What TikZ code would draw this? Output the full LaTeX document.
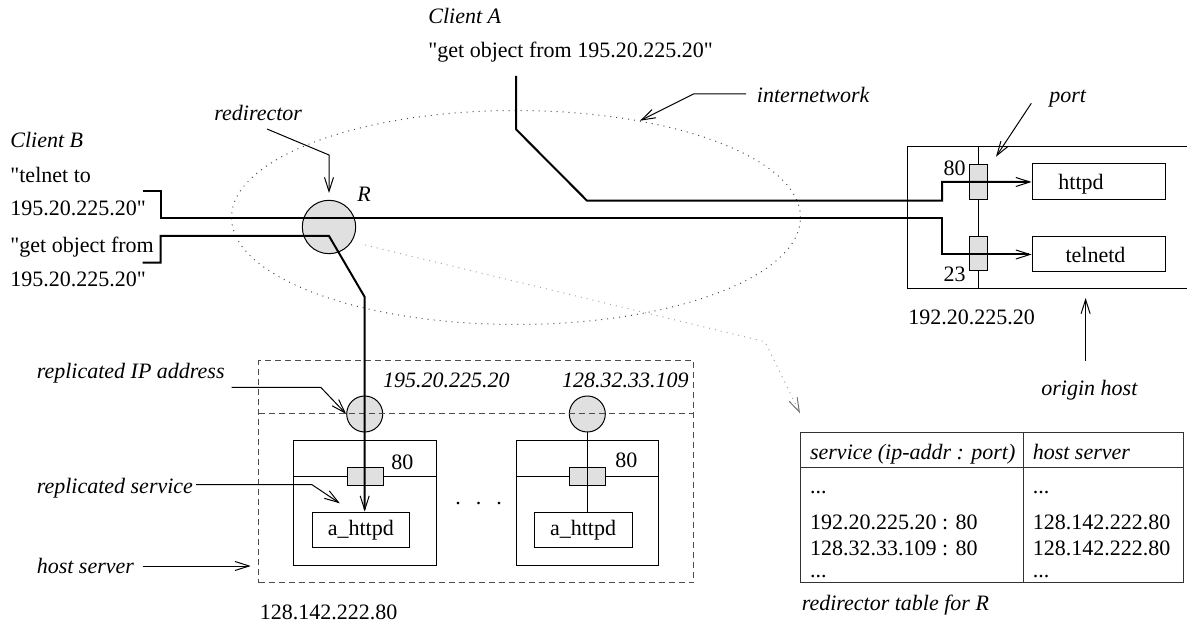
\documentclass[tikz,border=0pt]{standalone}
\usepackage{fontspec}
\setmainfont{Liberation Serif}
\usetikzlibrary{arrows.meta,shapes.geometric}
\begin{document}
\begin{tikzpicture}[x=0.5pt,y=-0.5pt,
  txt/.style={font=\fontsize{11}{13}\selectfont, inner sep=0pt, anchor=base west},
  itxt/.style={txt, font=\fontsize{11}{13}\selectfont\itshape},
  thk/.style={line width=1pt},
  thn/.style={line width=0.5pt},
  arr/.style={-{Straight Barb[length=7pt,width=4.5pt,line width=0.5pt]}},
  portbox/.style={draw, thn, fill=black!12, inner sep=0pt},
  sbox/.style={draw, thn, inner sep=0pt, font=\fontsize{11}{13}\selectfont},
  ipc/.style={circle, draw, thn, fill=black!12, inner sep=0pt, minimum size=18pt},
  dotline/.style={line width=0.5pt, dash pattern=on 0.5pt off 2.5pt},
  dashline/.style={line width=0.5pt, black!70, dash pattern=on 3pt off 2pt},
]
\useasboundingbox (0,0) rectangle (1187,624);

% internetwork
\node[ellipse, draw=black!70, dotline, inner sep=0pt, minimum width=284.5pt, minimum height=107pt] (net) at (516,217.5) {};

% redirector
\node[ipc, minimum size=26.7pt] (R) at (329,227) {};
\node[itxt] (Rl) at (357,202) {R};

% dotted link from R to table
\coordinate (rt0) at (365,245);
\coordinate (rt1) at (765,341.7);
\coordinate (rt2) at (800,413.3);
\draw[dotline, black!35, -{Straight Barb[length=7pt,width=4.5pt,line width=0.5pt,black!55]}] (rt0) -- (rt1) -- (rt2);

% texts
\node[itxt] (cA) at (428,24) {Client A};
\node[txt] (qA) at (428,58) {\textquotedbl get object from 195.20.225.20\textquotedbl};
\node[itxt] (inet) at (756.5,102.7) {internetwork};
\node[itxt] (redir) at (214,121) {redirector};
\node[itxt] (cB) at (10,147.7) {Client B};
\node[txt] (qB1) at (10,183) {\textquotedbl telnet to};
\node[txt] (qB2) at (10,215.5) {195.20.225.20\textquotedbl};
\node[txt] (qB3) at (10,253) {\textquotedbl get object from};
\node[txt] (qB4) at (10,286.5) {195.20.225.20\textquotedbl};
\node[itxt] (portl) at (1049,103) {port};
\node[txt] (oip) at (908,325) {192.20.225.20};
\node[itxt] (orig) at (1041,396) {origin host};

% origin host
\coordinate (oh1) at (1187,147);
\coordinate (oh2) at (907,147);
\coordinate (oh3) at (907,289);
\coordinate (oh4) at (1187,289);
\draw[thn] (oh1) -- (oh2) -- (oh3) -- (oh4);
\coordinate (ovT) at (978,147);
\coordinate (ovB) at (978,289);
\draw[thn] (ovT) -- (ovB);
\node[portbox, minimum width=9pt, minimum height=17.5pt] (op1) at (978,182.5) {};
\node[portbox, minimum width=9pt, minimum height=17pt] (op2) at (978,254) {};
\node[sbox, minimum width=66.5pt, minimum height=18pt] (httpd) at (1098.5,182) {};
\node[txt] (httpdt) at (1058,189.5) {httpd};
\node[sbox, minimum width=66.5pt, minimum height=17.5pt] (telnetd) at (1098.5,254.5) {\hspace*{-3pt}telnetd};
\node[txt] (p80) at (943.3,175.5) {80};
\node[txt] (p23) at (943.3,282) {23};

% host server (dashed)
\node[draw=black!70, dashline, minimum width=217.45pt, minimum height=111pt, inner sep=0pt] (hs) at (476.15,471.7) {};
\node[sbox, minimum width=71.4pt, minimum height=62.3pt] (ib1) at (364.9,503) {};
\node[sbox, minimum width=71.15pt, minimum height=62.3pt] (ib2) at (587.15,503) {};
\node[portbox, minimum width=17.75pt, minimum height=9pt] (p1) at (365.25,476.3) {};
\node[portbox, minimum width=18pt, minimum height=9pt] (p2) at (587.3,476.3) {};
\draw[thn] (ib1.west |- p1) -- (p1.west);
\draw[thn] (p1.east) -- (ib1.east |- p1);
\draw[thn] (ib2.west |- p2) -- (p2.west);
\draw[thn] (p2.east) -- (ib2.east |- p2);
\node[sbox, minimum width=48.75pt, minimum height=17.85pt] (ah1) at (360.75,529.85) {a\_httpd};
\node[sbox, minimum width=49pt, minimum height=17.85pt] (ah2) at (583,529.85) {a\_httpd};
\node[txt] (l80a) at (391,469) {80};
\node[txt] (l80b) at (615,467.5) {80};
\node[txt] (dots) at (455,504) {.\hspace{7.5pt}.\hspace{7.5pt}.};
\node[ipc] (c1) at (364.7,414) {};
\node[ipc] (c2) at (587.3,414) {};
\coordinate (hmL) at (258.7,414);
\coordinate (hmR) at (693.6,414);
\draw[dashline] (hmL) -- (hmR);
\draw[thn] (c2.south) -- (c2 |- ah2.north);
\node[itxt] (ip1) at (382.7,387.7) {195.20.225.20};
\node[itxt] (ip2) at (561.7,387.7) {128.32.33.109};
\node[txt] (hsip) at (259.5,619.5) {128.142.222.80};

% left labels
\node[itxt] (rip) at (36.4,379) {replicated IP address};
\node[itxt] (rsv) at (36.4,493.3) {replicated service};
\node[itxt] (hsl) at (36.4,573.3) {host server};

% table
\node[draw=black!80, thn, minimum width=191.3pt, minimum height=75.2pt, inner sep=0pt] (tbl) at (992,507.5) {};
\coordinate (tcT) at (1023,432.3);
\coordinate (tcB) at (1023,582.7);
\draw[thn, black!80] (tcT) -- (tcB);
\draw[thn, black!80] (tbl.west |- 0,467.3) -- (tbl.east |- 0,467.3);
\node[itxt] (th1) at (809.7,459.5) {service (ip-addr : port)};
\node[itxt] (th2) at (1032.4,459.5) {host server};
\node[txt] (r1a) at (809.7,493) {...};
\node[txt] (r2a) at (809.7,529.5) {192.20.225.20 : 80};
\node[txt] (r3a) at (809.7,555) {128.32.33.109 : 80};
\node[txt] (r4a) at (809.7,577) {...};
\node[txt] (r1b) at (1032.4,493) {...};
\node[txt] (r2b) at (1032.4,529.5) {128.142.222.80};
\node[txt] (r3b) at (1032.4,555) {128.142.222.80};
\node[txt] (r4b) at (1032.4,577) {...};
\node[itxt] (tcap) at (801.4,610) {redirector table for R};

% leader arrows
\coordinate (inA) at (746,94);
\coordinate (inB) at (693.6,94);
\coordinate (inC) at (640,120.7);
\draw[thn, arr] (inA) -- (inB) -- (inC);
\coordinate (rdA) at (267,129);
\coordinate (rdB) at (329,155);
\draw[thn, arr] (rdA) -- (rdB) -- (R.north |- 0,193);
\coordinate (ptA) at (1031.3,103.3);
\coordinate (ptB) at (996,156.7);
\draw[thn, arr] (ptA) -- (ptB);
\coordinate (ogA) at (1085.6,360.7);
\coordinate (ogB) at (1085.6,298);
\draw[thn, arr] (ogA) -- (ogB);
\coordinate (riA) at (231.5,387.3);
\coordinate (riB) at (320.7,387.3);
\draw[thn, arr] (riA) -- (riB) -- (c1.west);
\coordinate (rsA) at (196,484.7);
\coordinate (rsB) at (312,484.7);
\coordinate (rsC) at (339.8,503.3);
\draw[thn, arr] (rsA) -- (rsB) -- (rsC);
\coordinate (hsA) at (142.7,566);
\coordinate (hsB) at (250.7,566);
\draw[thn, arr] (hsA) -- (hsB);

% thick connection lines
\coordinate (ca0) at (516,76);
\draw[thk, arr] (ca0) -- (516,129.3) -- (587,200.7) -- (942,200.7) -- (942,182) -- (httpd.west);
\coordinate (cb0) at (142.7,191);
\draw[thk, arr] (cb0) -- (160.7,191) -- (160.7,218.3) -- (942,218.3) -- (942,254.5) -- (telnetd.west);
\coordinate (cb1) at (142.7,262.7);
\draw[thk, arr] (cb1) -- (160.7,262.7) -- (160.7,236) -- (329,236) -- (364.7,297) -- (c1 |- ah1.north);
\end{tikzpicture}
\end{document}
